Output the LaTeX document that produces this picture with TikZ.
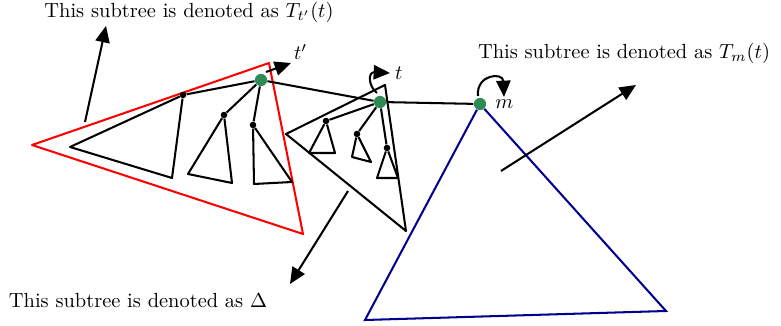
\documentclass[tikz,border=0pt]{standalone}
\usetikzlibrary{arrows.meta}
\definecolor{seagreen}{RGB}{46,139,87}
\begin{document}
\begin{tikzpicture}[x=0.0172cm,y=-0.0172cm,
  edge/.style={line width=1pt,line join=round},
  pointer/.style={line width=1pt,-{Triangle[length=8pt,width=7pt]}},
  root/.style={circle,fill=seagreen,inner sep=0pt,minimum size=6pt},
  leafdot/.style={circle,fill=black,inner sep=0pt,minimum size=3.2pt}]
\useasboundingbox (0,0) rectangle (781,326);

% red and blue subtrees
\draw[red,line width=1pt,line join=round] (32,145) -- (269,63) -- (303,234) -- cycle;

\node[root] (tp) at (261,80) {};
\node[root] (t) at (380,102) {};
\node[root] (m) at (480,104) {};

\draw[blue!55!black,line width=1pt] (m) -- (365,320) -- (666,311) -- (m);

% children of t'
\node[leafdot] (a1) at (183,95) {};
\node[leafdot] (a2) at (224,115) {};
\node[leafdot] (a3) at (253,125) {};
\draw[edge] (tp) -- (a1);
\draw[edge] (tp) -- (a2);
\draw[edge] (tp) -- (a3);
\draw[edge] (a1) -- (70,147) -- (172,178) -- (a1);
\draw[edge] (a2) -- (188,174) -- (232,183) -- (a2);
\draw[edge] (a3) -- (254,184) -- (292,182) -- (a3);

% children of t
\node[leafdot] (b1) at (326,121) {};
\node[leafdot] (b2) at (357,134) {};
\node[leafdot] (b3) at (387,148) {};
\draw[edge] (t) -- (b1);
\draw[edge] (t) -- (b2);
\draw[edge] (t) -- (b3);
\draw[edge] (b1) -- (309,153) -- (335,153) -- (b1);
\draw[edge] (b2) -- (352,157) -- (371,162) -- (b2);
\draw[edge] (b3) -- (377,178) -- (398,178) -- (b3);
\draw[edge] (286,134) -- (385,85) -- (406,231) -- cycle;

% path t' -> t -> m
\draw[edge] (tp) -- (t);
\draw[edge] (t) -- (m);

% little pointers and labels
\draw[pointer] (266,72) -- (291,63) node[above right,inner sep=1pt] {$t'$};
\draw[pointer] (377,93) .. controls (368,86) and (368,72) .. (390,73) node[right,inner sep=2pt] {$t$};
\draw[pointer] (478,96) .. controls (476,74) and (503,72) .. (504,97);
\node[right,xshift=4pt] at (m) {$m$};

% captions
\node (capA) at (189,12) {This subtree is denoted as $T_{t'}(t)$};
\node (capB) at (624,53) {This subtree is denoted as $T_m(t)$};
\node (capC) at (138,301) {This subtree is denoted as $\Delta$};

\coordinate (fromA) at (85,122);
\coordinate (toA) at (106,26);
\coordinate (fromB) at (501,171);
\coordinate (toB) at (636,85);
\coordinate (fromC) at (348,191);
\coordinate (toC) at (290,284);
\draw[pointer] (fromA) -- (toA);
\draw[pointer] (fromB) -- (toB);
\draw[pointer] (fromC) -- (toC);
\end{tikzpicture}
\end{document}
